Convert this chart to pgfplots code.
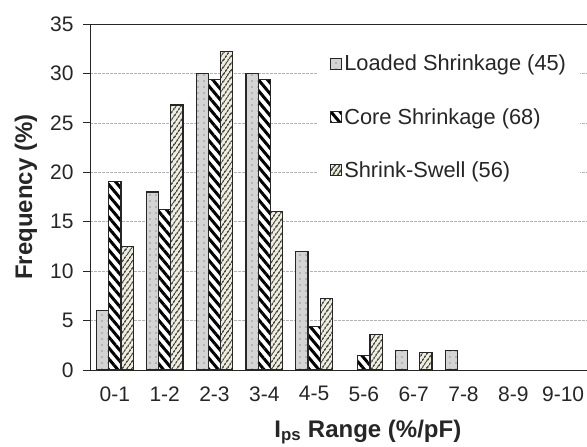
\documentclass[border=0pt]{standalone}
\usepackage{pgfplots}
\pgfplotsset{compat=1.18}
\usepackage{fontspec}
\setmainfont{Liberation Sans}
\usetikzlibrary{patterns.meta}
\definecolor{loadfill}{HTML}{D4D4D4}
\definecolor{swellline}{HTML}{4E4E3A}
\definecolor{swellfill}{HTML}{EEEEE4}
\definecolor{edge}{HTML}{262626}
\begin{document}
\begin{tikzpicture}
\begin{axis}[
  name=main,
  scale only axis,
  width=498pt, height=346pt,
  xmin=-0.5, xmax=9.5,
  ymin=0, ymax=35,
  axis lines*=left,
  axis line style={edge, line width=0.9pt},
  ybar=0pt,
  bar width=0.245,
  xtick={0,...,9},
  xticklabels={0-1,1-2,2-3,3-4,4-5,5-6,6-7,7-8,8-9,9-10},
  x tick style={draw=none},
  extra x ticks={-0.5,0.5,1.5,2.5,3.5,4.5,5.5,6.5,7.5,8.5},
  extra x tick labels={},
  extra x tick style={grid=none, tick style={draw=edge, line width=0.9pt}, major tick length=7pt},
  ytick={0,5,...,35},
  y tick style={draw=edge, line width=0.9pt},
  tick align=outside,
  major tick length=7pt,
  ymajorgrids,
  grid style={gray!60, line width=0.6pt, dash pattern=on 3pt off 1pt},
  /pgf/number format/assume math mode=true,
  tick label style={font=\fontsize{21}{25}\selectfont, text=black!85},
  xticklabel style={yshift=-6pt},
  yticklabel style={xshift=-6pt},
  every axis y label/.style={at={(rel axis cs:0,0.5)}, xshift=-64pt, rotate=90, anchor=center,
     font=\fontsize{24}{28}\selectfont\bfseries, text=black!85},
  every axis x label/.style={at={(rel axis cs:0.558,0)}, yshift=-67pt, anchor=base,
     font=\fontsize{24}{28}\selectfont\bfseries, text=black!85},
  ylabel={Frequency (\%)},
  xlabel={I\textsubscript{ps} Range (\%/pF)},
  legend cell align=left,
  legend style={at={(0.458,0.94)}, anchor=north west, draw=none, fill=white,
     inner xsep=12pt, inner ysep=8pt, row sep=32pt,
     font=\fontsize{21.8}{25}\selectfont, text=black!85,
     /tikz/every even column/.append style={column sep=5pt}},
  legend image code/.code={\draw[#1, line width=1pt] (0pt,-5.5pt) rectangle (11pt,5.5pt);},
  clip=false,
]
\addplot[draw=edge, line width=1.2pt, fill=loadfill,
  postaction={pattern={Dots[distance=6pt, radius=0.7pt]}, pattern color=black!70}]
  coordinates {(0,6) (1,18) (2,30) (3,30) (4,12) (6,2) (7,2)};
\addplot[draw=edge, line width=1.2pt, fill=white,
  postaction={pattern={Lines[angle=-50, distance=7pt, line width=3pt]}, pattern color=black}]
  coordinates {(0,19.1) (1,16.2) (2,29.4) (3,29.4) (4,4.4) (5,1.5)};
\addplot[draw=edge, line width=1.2pt, fill=swellfill,
  postaction={pattern={Lines[angle=55, distance=4pt, line width=1.9pt]}, pattern color=swellline}]
  coordinates {(0,12.5) (1,26.8) (2,32.2) (3,16.0) (4,7.2) (5,3.6) (6,1.8)};
\legend{Loaded Shrinkage (45), Core Shrinkage (68), Shrink-Swell (56)}
\end{axis}
\draw[edge, line width=0.9pt] (main.north west) -- (main.north east);
\pgfresetboundingbox
\path[use as bounding box] (main.south west) ++(-90pt,-77pt) rectangle ++(587pt,447pt);
\end{tikzpicture}
\end{document}
